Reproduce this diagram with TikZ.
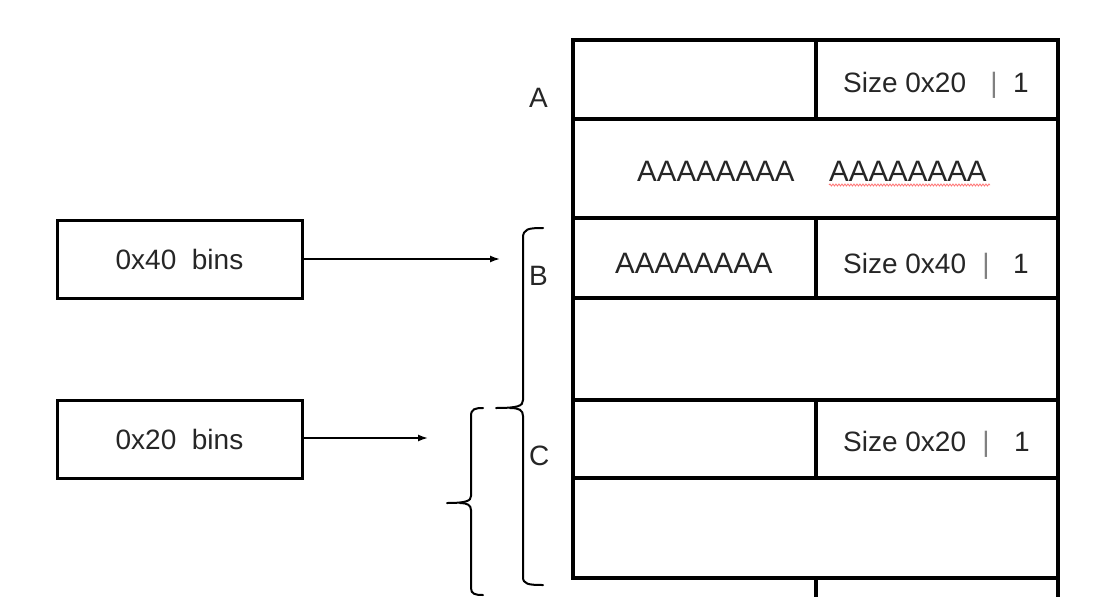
\documentclass[tikz,border=0pt]{standalone}
\usepackage{fontspec}
\setmainfont{Liberation Sans}
\usetikzlibrary{arrows.meta,decorations.pathmorphing}
\begin{document}
\begin{tikzpicture}[x=1pt,y=-1pt,
  txt/.style={font=\fontsize{28}{32}\selectfont, text=black!85, inner sep=0pt},
  atxt/.style={txt, font=\fontsize{29.5}{33}\selectfont},
  bar/.style={txt, text=black!50},
  grid/.style={line width=3.2pt},
  bin/.style={draw, line width=3pt, minimum width=245pt, minimum height=78pt,
    inner sep=0pt, font=\fontsize{28}{32}\selectfont, text=black!85},
  arr/.style={line width=1.6pt, -{Latex[length=10pt,width=7pt]}},
  bracepath/.style={line width=2pt, line cap=round}]
\fill[white] (0,0) rectangle (1095,597);
\useasboundingbox (0,0) rectangle (1095,597);
% memory table
\draw[grid] (573,40) rectangle (1058,578);
\draw[grid] (1058,578) -- (1058,600);
\foreach \yy in {119,218,298,400,478} \draw[grid] (573,\yy) -- (1058,\yy);
\draw[grid] (816,40) -- (816,119);
\draw[grid] (816,218) -- (816,298);
\draw[grid] (816,400) -- (816,478);
\draw[grid] (816,578) -- (816,600);
% row 1
\node[txt, anchor=base west] (s1) at (843,92) {Size 0x20};
\node[bar, anchor=base] (p1) at (994,92) {|};
\node[txt, anchor=base] (o1) at (1021,92) {1};
% row 2
\node[atxt, anchor=base west] (a1) at (637,181) {AAAAAAAA};
\node[atxt, anchor=base west] (a2) at (829,181) {AAAAAAAA};
\draw[red!55, line width=0.8pt, decorate, decoration={snake, amplitude=1pt, segment length=3pt}] (a2.base west) ++(0,4) -- ++(161,0);
% row 3
\node[atxt, anchor=base west] (a3) at (615,273) {AAAAAAAA};
\node[txt, anchor=base west] (s2) at (843,273) {Size 0x40};
\node[bar, anchor=base] (p2) at (986,273) {|};
\node[txt, anchor=base] (o2) at (1021,273) {1};
% row 5
\node[txt, anchor=base west] (s3) at (843,451) {Size 0x20};
\node[bar, anchor=base] (p3) at (986,451) {|};
\node[txt, anchor=base] (o3) at (1022,451) {1};
% labels
\node[txt, anchor=base west] (lA) at (529,107) {A};
\node[txt, anchor=base west] (lB) at (529,285) {B};
\node[txt, anchor=base west] (lC) at (529,465) {C};
% bins
\node[bin] (b40) at (179.5,259) {0x40~~bins};
\node[bin] (b20) at (179.5,439) {0x20~~bins};
\coordinate (t40) at (500,259);
\coordinate (t20) at (428,438);
\draw[arr] (b40.east |- t40) -- (t40);
\draw[arr] (b20.east |- t20) -- (t20);
% brace B
\draw[bracepath] (543,228) .. controls (528,228) and (523,229) .. (523,238)
  -- (523,400) .. controls (523,406) and (518,408) .. (496,408);
\draw[bracepath] (510,408) .. controls (519,408) and (523,410) .. (523,416)
  -- (523,577) .. controls (523,584) and (528,585) .. (543,585);
% brace C
\draw[bracepath] (483,408) .. controls (475,408) and (471,409) .. (471,416)
  -- (471,496) .. controls (471,501) and (466,503) .. (447,503);
\draw[bracepath] (460,503) .. controls (467,503) and (471,505) .. (471,510)
  -- (471,588) .. controls (471,594) and (475,595) .. (483,595);
\end{tikzpicture}
\end{document}
